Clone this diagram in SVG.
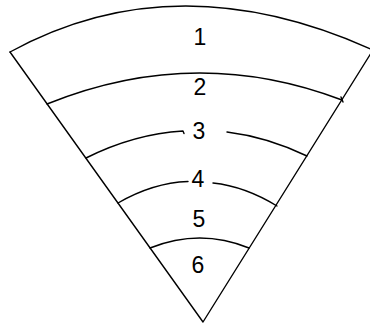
<svg xmlns="http://www.w3.org/2000/svg" width="370" height="324" viewBox="0 0 370 324">
<style>
.ln{fill:none;stroke:#000;stroke-width:1.4;stroke-linecap:round;stroke-linejoin:round}
.lb{font-family:"Liberation Sans",Arial,sans-serif;font-size:23px;fill:#000;text-anchor:middle}
</style>
<rect width="370" height="324" fill="#fff"/>
<g id="outline">
<path class="ln" d="M10 52 L203 322 L373 50"/>
<path class="ln" d="M10 52 Q176 -39 373 50"/>
</g>
<g id="arcs">
<path class="ln" d="M47 104 Q195 44 342 100"/>
<path class="ln" d="M341 97 L343 102"/>
<path class="ln" d="M86 158 Q134.4 133.8 183 131 l1 2.5"/>
<path class="ln" d="M227 132 Q267.1 136.9 307 156"/>
<path class="ln" d="M118 203 Q152.8 182.8 188 181.5"/>
<path class="ln" d="M213 183 Q245 186.4 277 206"/>
<path class="ln" d="M150 248 Q200 228 249 248"/>
</g>
<g id="labels">
<text class="lb" x="200" y="45">1</text>
<text class="lb" x="200" y="95">2</text>
<text class="lb" x="199" y="139">3</text>
<text class="lb" x="198" y="187">4</text>
<text class="lb" x="199" y="227">5</text>
<text class="lb" x="198" y="273">6</text>
</g>
</svg>
